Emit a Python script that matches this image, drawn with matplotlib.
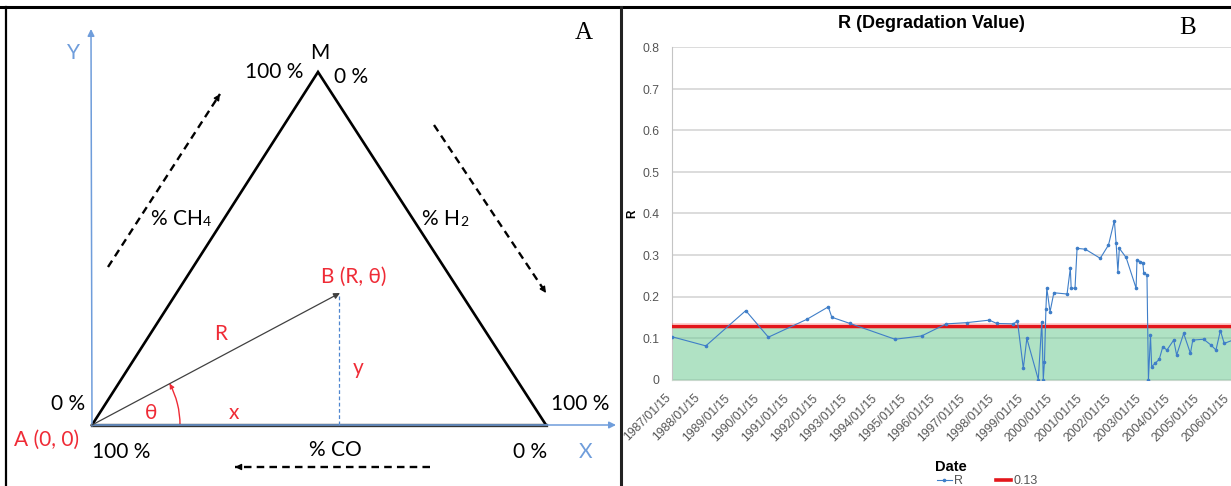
import matplotlib
matplotlib.use("Agg")
import numpy as np
import matplotlib.pyplot as plt
import matplotlib.transforms as mtransforms
from matplotlib.patches import Arc
from matplotlib.lines import Line2D

# ---- data (panel B) ----
years = [1987.04, 1988.19, 1989.55, 1990.32, 1991.63, 1992.36, 1992.48, 1993.10,
         1994.63, 1995.54, 1996.37, 1997.07, 1997.84, 1998.10, 1998.66, 1998.80,
         1999.00, 1999.12, 1999.51, 1999.63, 1999.68, 1999.72, 1999.77, 1999.80,
         1999.91, 2000.04, 2000.49, 2000.60, 2000.63, 2000.76, 2000.83, 2001.11,
         2001.62, 2001.90, 2002.10, 2002.16, 2002.22, 2002.27, 2002.50, 2002.84,
         2002.87, 2002.99, 2003.07, 2003.10, 2003.21, 2003.26, 2003.33, 2003.37,
         2003.49, 2003.63, 2003.75, 2003.89, 2004.12, 2004.22, 2004.46, 2004.69,
         2004.77, 2005.14, 2005.39, 2005.56, 2005.71, 2005.84, 2006.14]
r_vals = [0.103, 0.081, 0.166, 0.102, 0.145, 0.175, 0.150, 0.135,
          0.097, 0.105, 0.134, 0.137, 0.143, 0.135, 0.134, 0.141,
          0.027, 0.099, 0.000, 0.139, 0.000, 0.043, 0.171, 0.220,
          0.163, 0.209, 0.206, 0.268, 0.220, 0.220, 0.316, 0.314,
          0.292, 0.324, 0.383, 0.328, 0.260, 0.316, 0.294, 0.220,
          0.288, 0.284, 0.281, 0.257, 0.252, 0.000, 0.107, 0.031,
          0.039, 0.049, 0.079, 0.071, 0.095, 0.059, 0.111, 0.063,
          0.095, 0.097, 0.083, 0.071, 0.118, 0.087, 0.095]
threshold = 0.13
tick_years = [1987 + k for k in range(20)]
tick_labels = ["%d/01/15" % y for y in tick_years]
y_ticks = [0, 0.1, 0.2, 0.3, 0.4, 0.5, 0.6, 0.7, 0.8]

# ---- diagram geometry (panel A), canvas pixels ----
A = (92, 425)
M = (318, 72)
C = (546, 425)
B = (340, 293)

W, H = 1231, 486
fig = plt.figure(figsize=(W / 100, H / 100), dpi=100)

cv = fig.add_axes([0, 0, 1, 1])
cv.set_xlim(0, W)
cv.set_ylim(H, 0)
cv.axis("off")

# frames
cv.plot([0, W], [7, 7], color="k", lw=2.2)
cv.plot([6, 6], [7, H], color="k", lw=1.6)
cv.plot([621, 621], [7, H], color="#222222", lw=2.2)

blue = "#6f9ddb"
red = "#ef2b36"
dfont = ["Lato", "DejaVu Sans"]

# x / y axes of the diagram
cv.annotate("", xy=(91, 29), xytext=(92, 426),
            arrowprops=dict(arrowstyle="-|>", color=blue, lw=1.1, mutation_scale=10, shrinkA=0, shrinkB=0))
cv.annotate("", xy=(616, 425), xytext=(92, 425),
            arrowprops=dict(arrowstyle="-|>", color=blue, lw=1.1, mutation_scale=10, shrinkA=0, shrinkB=0))

# triangle
cv.plot([A[0], M[0], C[0]], [A[1], M[1], C[1]], color="k", lw=1.9, solid_joinstyle="miter")
cv.plot([A[0], C[0]], [A[1], C[1]], color="#333333", lw=2.4)

# vector R and projection
cv.annotate("", xy=B, xytext=A,
            arrowprops=dict(arrowstyle="-|>", color="#404040", lw=0.9, mutation_scale=9, shrinkA=0, shrinkB=0))
cv.plot([B[0] - 1, B[0] - 1], [B[1] + 3, A[1]], color="#4f86cf", lw=0.9, dashes=(3, 2))

# theta arc
rad = 88
ang = np.degrees(np.arctan2(A[1] - B[1], B[0] - A[0]))
cv.add_patch(Arc(A, 2 * rad, 2 * rad, theta1=-ang, theta2=0, color=red, lw=1.0))
phi = np.radians(ang)
tip = (A[0] + rad * np.cos(phi), A[1] - rad * np.sin(phi))
tan = (-np.sin(phi), -np.cos(phi))
cv.annotate("", xy=tip, xytext=(tip[0] - 5 * tan[0], tip[1] - 5 * tan[1]),
            arrowprops=dict(arrowstyle="-|>", color=red, lw=0.8, mutation_scale=7, shrinkA=0, shrinkB=0))


def dash_arrow(p0, p1):
    cv.plot([p0[0], p1[0]], [p0[1], p1[1]], color="k", lw=1.7, dashes=(3.2, 2.2))
    d = np.array(p1, float) - np.array(p0, float)
    d = d / np.hypot(*d)
    cv.annotate("", xy=p1, xytext=(p1[0] - 6 * d[0], p1[1] - 6 * d[1]),
                arrowprops=dict(arrowstyle="-|>", color="k", lw=1.0, mutation_scale=9, shrinkA=0, shrinkB=0))


dash_arrow((108, 267), (220, 94))
dash_arrow((434, 125), (546, 293))
dash_arrow((430, 467), (235, 467))

# diagram labels
fs = 15
def lbl(x, y, s, c="k", **kw):
    kw.setdefault("ha", "center")
    cv.text(x, y, s, color=c, fontsize=kw.pop("size", fs), family=dfont, va="center", **kw)

lbl(73, 53, "Y", blue)
lbl(586, 452, "X", blue)
lbl(320, 53, "M")
lbl(274, 72, "100 %")
lbl(351, 77, "0 %")
lbl(203, 219, "% CH", ha="right")
lbl(203, 222, "4", size=10, ha="left")
lbl(460, 219, "% H", ha="right")
lbl(460, 222, "2", size=10, ha="left")
lbl(354, 277, "B (R, θ)", red)
lbl(221, 334, "R", red)
lbl(358, 368, "y", red)
lbl(151, 413, "θ", red)
lbl(234, 413, "x", red)
lbl(68, 404, "0 %")
lbl(580, 404, "100 %")
lbl(47, 440, "A (0, 0)", red)
lbl(121, 452, "100 %")
lbl(335, 450, "% CO")
lbl(530, 452, "0 %")
cv.text(584, 33, "A", color="k", fontsize=18, family="Liberation Serif", ha="center", va="center")

# ---- panel B chart ----
cfont = "Liberation Sans"
x0 = tick_years[0] + 14 / 365
px_per_year = 29.37
ax = fig.add_axes([672 / W, 1 - 379.5 / H, 1 - 672 / W, (379.5 - 47.5) / H])
xlim = (x0, x0 + (W - 672) / px_per_year)
ax.set_xlim(*xlim)
ax.set_ylim(0, 0.8)

ax.fill_between(xlim, 0, threshold, color="#6fcb95", alpha=0.55, lw=0, zorder=1)
ax.axhline(threshold, color="#ff3030", lw=4.2, alpha=0.25, zorder=3)
ax.axhline(threshold, color="#e3161b", lw=2.3, zorder=3)
ax.plot(years, r_vals, color="#3f7ec8", lw=0.8, marker="o", ms=1.6, zorder=4)

ax.set_yticks(y_ticks)
ax.set_yticklabels(["0" if v == 0 else "%.1f" % v for v in y_ticks])
ax.set_xticks([x0 + (y - tick_years[0]) for y in tick_years])
ax.set_xticklabels(tick_labels)
ax.yaxis.grid(True, color="#d2d2d2", lw=1.1)
ax.set_axisbelow(True)
for s in ("top", "right"):
    ax.spines[s].set_visible(False)
ax.spines["left"].set_color("#c4c4c4")
ax.spines["bottom"].set_color("#c8d8cc")
ax.tick_params(length=0, labelsize=8.7, labelcolor="#555555")
ax.tick_params(axis="y", pad=9)
ax.tick_params(axis="x", pad=9)
for lab in ax.get_xticklabels() + ax.get_yticklabels():
    lab.set_family(cfont)
plt.setp(ax.get_xticklabels(), rotation=45, ha="right", rotation_mode="anchor")
shift = mtransforms.ScaledTranslation(-7 / 100, 0, fig.dpi_scale_trans)
for lab in ax.get_xticklabels():
    lab.set_transform(lab.get_transform() + shift)

fig.text(931 / W, 1 - 23 / H, "R (Degradation Value)", fontsize=13, fontweight="bold",
         family=cfont, ha="center", va="center")
fig.text(1188 / W, 1 - 28 / H, "B", fontsize=18, family="Liberation Serif", ha="center", va="center")
fig.text(632 / W, 1 - 214 / H, "R", fontsize=8.5, fontweight="bold", family=cfont,
         rotation=90, ha="center", va="center")
fig.text(951 / W, 1 - 467 / H, "Date", fontsize=10.5, fontweight="bold", family=cfont,
         ha="center", va="center")

handles = [Line2D([], [], color="#3f7ec8", lw=0.8, marker="o", ms=1.6),
           Line2D([], [], color="#e3161b", lw=2.6)]
leg = fig.legend(handles, ["R", "0.13"], loc="center", bbox_to_anchor=(987 / W, 1 - 481 / H),
                 ncol=2, frameon=False, handlelength=1.2, handletextpad=0.2, columnspacing=2.6,
                 prop={"family": cfont, "size": 9})
for t in leg.get_texts():
    t.set_color("#555555")

fig.savefig("out.png", dpi=100)
